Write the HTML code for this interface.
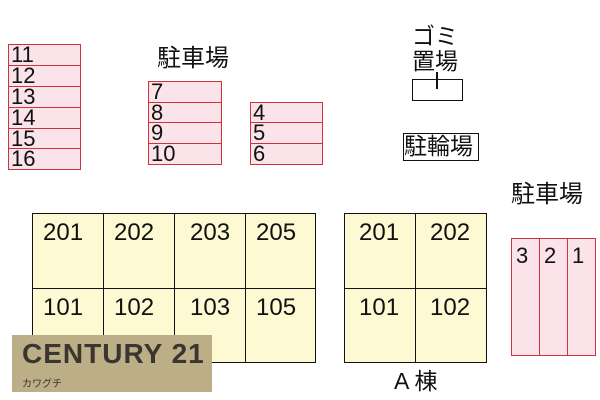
<!DOCTYPE html>
<html><head><meta charset="utf-8"><style>
body{margin:0;width:600px;height:400px;background:#fff;position:relative;overflow:hidden;font-family:"Liberation Sans","Noto Sans CJK JP",sans-serif;color:#111}
.a{position:absolute;box-sizing:border-box}
.p{background:#fbe3ea;border:1.5px solid #d0323c;font-size:22px;line-height:19px;padding-left:2px}
.r{background:#fdf9d2;border:1.5px solid #111;font-size:24px;padding:5px 0 0 10px}
.t{font-size:24px;white-space:nowrap}
</style></head><body>
<div class="a p" style="left:8px;top:44px;width:73px;height:22px">11</div>
<div class="a p" style="left:8px;top:65px;width:73px;height:22px">12</div>
<div class="a p" style="left:8px;top:86px;width:73px;height:22px">13</div>
<div class="a p" style="left:8px;top:107px;width:73px;height:22px">14</div>
<div class="a p" style="left:8px;top:128px;width:73px;height:22px">15</div>
<div class="a p" style="left:8px;top:148px;width:73px;height:22px">16</div>
<div class="a p" style="left:148px;top:81px;width:74px;height:22px">7</div>
<div class="a p" style="left:148px;top:102px;width:74px;height:22px">8</div>
<div class="a p" style="left:148px;top:122px;width:74px;height:22px">9</div>
<div class="a p" style="left:148px;top:143px;width:74px;height:22px">10</div>
<div class="a p" style="left:250px;top:102px;width:73px;height:22px">4</div>
<div class="a p" style="left:250px;top:122px;width:73px;height:22px">5</div>
<div class="a p" style="left:250px;top:143px;width:73px;height:22px">6</div>
<div class="a t" style="left:157px;top:38px">駐車場</div>
<div class="a t" style="left:412px;top:24px;line-height:25px;font-size:23px">ゴミ<br>置場</div>
<div class="a" style="left:412px;top:79px;width:51px;height:22px;border:1.5px solid #111;background:#fff"></div>
<div class="a" style="left:436px;top:72px;width:1.5px;height:17px;background:#111"></div>
<div class="a t" style="left:403px;top:133px;width:76px;height:28px;border:1.5px solid #111;font-size:23px;line-height:25px;padding-left:0">駐輪場</div>
<div class="a t" style="left:511px;top:174px">駐車場</div>
<div class="a r" style="left:32px;top:213px;width:73px;height:77px">201</div>
<div class="a r" style="left:103px;top:213px;width:73px;height:77px">202</div>
<div class="a r" style="left:174px;top:213px;width:73px;height:77px;padding-left:15px">203</div>
<div class="a r" style="left:245px;top:213px;width:71px;height:77px">205</div>
<div class="a r" style="left:32px;top:288px;width:73px;height:75px">101</div>
<div class="a r" style="left:103px;top:288px;width:73px;height:75px">102</div>
<div class="a r" style="left:174px;top:288px;width:73px;height:75px;padding-left:15px">103</div>
<div class="a r" style="left:245px;top:288px;width:71px;height:75px">105</div>
<div class="a r" style="left:344px;top:213px;width:73px;height:77px;padding-left:14px">201</div>
<div class="a r" style="left:415px;top:213px;width:72px;height:77px;padding-left:14px">202</div>
<div class="a r" style="left:344px;top:288px;width:73px;height:75px;padding-left:14px">101</div>
<div class="a r" style="left:415px;top:288px;width:72px;height:75px;padding-left:14px">102</div>
<div class="a t" style="left:394px;top:362px;font-size:23px">A 棟</div>
<div class="a p" style="left:511px;top:238px;width:30px;height:118px;padding:7px 0 0 4px">3</div>
<div class="a p" style="left:539px;top:238px;width:30px;height:118px;padding:7px 0 0 4px">2</div>
<div class="a p" style="left:567px;top:238px;width:29px;height:118px;padding:7px 0 0 4px">1</div>
<div class="a" style="left:12px;top:335px;width:200px;height:57px;background:#bcae86"></div>
<div class="a" style="left:22px;top:338px;font-size:28px;font-weight:bold;letter-spacing:1px;color:#3b3530">CENTURY 21</div>
<div class="a" style="left:22px;top:375px;font-size:10px;color:#3b3530">カワグチ</div>
</body></html>
